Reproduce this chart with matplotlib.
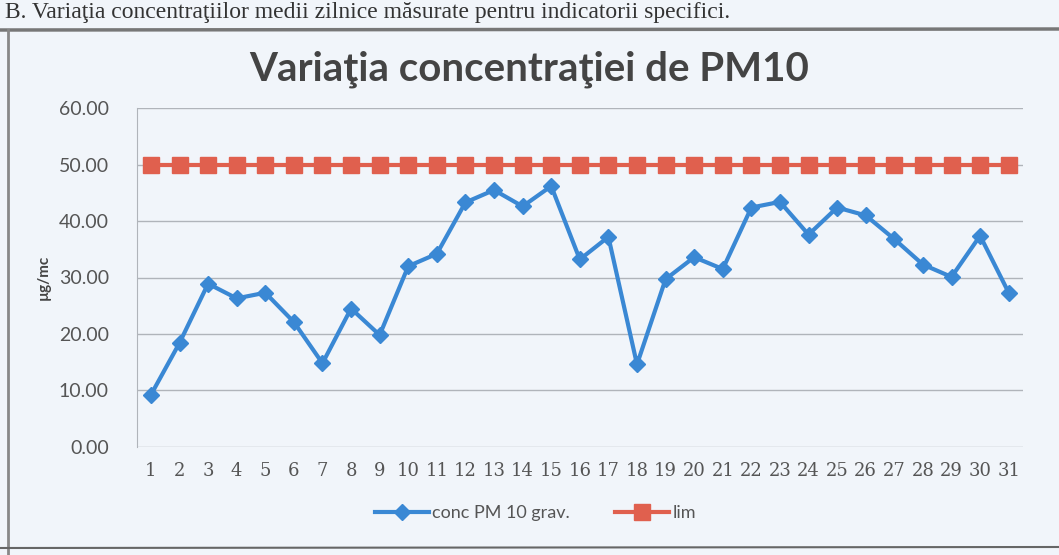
import matplotlib
matplotlib.use("Agg")
import matplotlib.pyplot as plt
from matplotlib.lines import Line2D

days = list(range(1, 32))
conc_pm10 = [9.2, 18.4, 28.9, 26.3, 27.3, 22.1, 14.8, 24.5, 19.8, 32.0, 34.2,
             43.3, 45.5, 42.6, 46.2, 33.2, 37.2, 14.6, 29.7, 33.6, 31.5, 42.4,
             43.4, 37.6, 42.4, 41.0, 36.8, 32.3, 30.1, 37.4, 27.3]
lim = [50.0] * 31
yticks = [0, 10, 20, 30, 40, 50, 60]

blue = "#3a88d4"
red = "#e0604e"
bg = "#f1f5fa"

plt.rcParams['font.family'] = ['Lato', 'DejaVu Sans']

fig = plt.figure(figsize=(10.59, 5.55), dpi=100, facecolor=bg)
ax = fig.add_axes([0.129, 0.195, 0.837, 0.61], facecolor=bg)

ax.plot(days, conc_pm10, color=blue, lw=3, marker='D', ms=8, mec=blue, mfc=blue,
        label='conc PM 10 grav.', zorder=3)
ax.plot(days, lim, color=red, lw=3, marker='s', ms=12, mec=red, mfc=red,
        label='lim', zorder=2)

ax.set_xlim(0.5, 31.5)
ax.set_ylim(0, 60)
ax.set_yticks(yticks)
ax.set_yticklabels([f"{v:.2f}" for v in yticks], fontsize=14, color='#555555')
ax.set_xticks(days)
ax.set_xticklabels([str(d) for d in days], fontsize=13, color='#555555',
                   family=['DejaVu Serif'])
ax.tick_params(axis='y', length=0, pad=20)
ax.tick_params(axis='x', length=0, pad=11)
ax.grid(axis='y', color='#b0b4ba', lw=1)
ax.set_axisbelow(True)
for s in ['top', 'right', 'bottom']:
    ax.spines[s].set_visible(False)
ax.spines['left'].set_color('#b0b4ba')
ax.set_ylabel('µg/mc', fontsize=11, fontweight='bold', color='#444444', labelpad=6)

fig.text(0.5, 0.876, 'Variaţia concentraţiei de PM10', ha='center', va='center',
         fontsize=29, fontweight='bold', color='#444444')

leg = ax.legend(loc='upper center', bbox_to_anchor=(0.45, -0.125), ncol=2, frameon=False,
                fontsize=13, handlelength=3, columnspacing=2.5, handletextpad=0.2)
for t in leg.get_texts():
    t.set_color('#555555')

# scanned page header and frame
fig.text(0.005, 1 - 2/555, 'B. Variaţia concentraţiilor medii zilnice măsurate pentru indicatorii specifici.',
         ha='left', va='top', fontsize=17, family=['Liberation Serif'], color='#333333')
fig.add_artist(Line2D([0, 1], [1 - 30/555, 1 - 29/555], transform=fig.transFigure,
                      color='#777777', lw=2.5))
fig.add_artist(Line2D([8/1059, 8/1059], [0, 1 - 30/555], transform=fig.transFigure,
                      color='#888888', lw=2))
fig.add_artist(Line2D([0, 1], [7/555, 8/555], transform=fig.transFigure,
                      color='#666666', lw=1.5))

fig.savefig('out.png', dpi=100, facecolor=fig.get_facecolor())
